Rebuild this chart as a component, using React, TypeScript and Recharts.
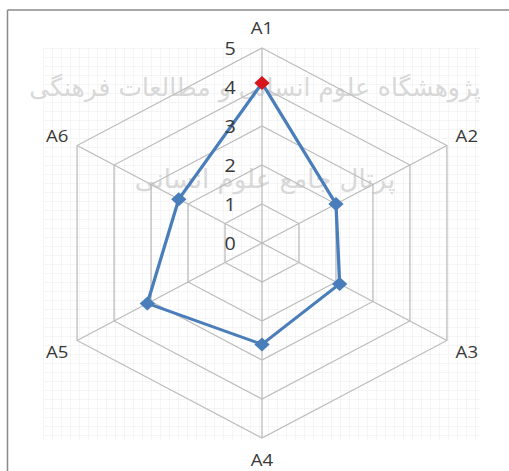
import React from "react";
import { RadarChart, Radar, PolarGrid, PolarAngleAxis, PolarRadiusAxis } from "recharts";

const axes = ["A1", "A2", "A3", "A4", "A5", "A6"];
const scores = [4.1, 2.0, 2.1, 2.6, 3.1, 2.25];
const radiusTicks = [0, 1, 2, 3, 4, 5];

const data = axes.map((name, i) => ({ name, value: scores[i] }));

const CX = 262;
const CY = 243;
const R = 195;
const STRETCH = 1.095;

const AngleTick = (props: any) => {
  const a = (-props.payload.coordinate * Math.PI) / 180;
  const r = R + 21;
  return (
    <text
      x={CX + Math.cos(a) * r}
      y={CY + Math.sin(a) * r}
      textAnchor="middle"
      dominantBaseline="central"
      fontSize={17}
      fill="#383838"
      fontFamily="Open Sans, sans-serif"
    >
      {props.payload.value}
    </text>
  );
};

const RadiusTick = (props: any) => (
  <text
    x={props.x - 29}
    y={props.y}
    textAnchor="middle"
    dominantBaseline="central"
    fontSize={18}
    fill="#383838"
    fontFamily="Open Sans, sans-serif"
  >
    {props.payload.value}
  </text>
);

const Diamond = (props: any) => {
  const { cx, cy, index } = props;
  const s = 7;
  return (
    <polygon
      key={`d-${index}`}
      points={`${cx},${cy - s} ${cx + s},${cy} ${cx},${cy + s} ${cx - s},${cy}`}
      fill={index === 0 ? "#d7161c" : "#4a7ebb"}
    />
  );
};

export default function App() {
  return (
    <div style={{ position: "fixed", left: 0, top: 0, width: 509, height: 471, background: "#fff", overflow: "hidden" }}>
      <svg width={509} height={471} style={{ position: "absolute", left: 0, top: 0 }}>
        <defs>
          <pattern id="paper" width={9} height={9} patternUnits="userSpaceOnUse" x={43} y={48}>
            <path d="M 9 0 L 0 0 0 9" fill="none" stroke="#ececec" strokeWidth={1} />
          </pattern>
        </defs>
        <rect x={43} y={48} width={437} height={392} fill="url(#paper)" />
        <text x={255} y={96} textAnchor="middle" fontSize={25} fill="#d8d8d8" fontFamily="DejaVu Sans, sans-serif" direction="rtl">
          پژوهشگاه علوم انسانی و مطالعات فرهنگی
        </text>
        <text x={265} y={188} textAnchor="middle" fontSize={26} fill="#d8d8d8" fontFamily="DejaVu Sans, sans-serif" direction="rtl">
          پرتال جامع علوم انسانی
        </text>
        <line x1={7.5} y1={10} x2={509} y2={10} stroke="#8a8a8a" strokeWidth={1.5} />
        <line x1={7.5} y1={10} x2={7.5} y2={471} stroke="#8a8a8a" strokeWidth={1.5} />
      </svg>
      <div
        style={{
          position: "absolute",
          left: 0,
          top: 0,
          transform: `scaleX(${STRETCH})`,
          transformOrigin: `${CX}px ${CY}px`,
        }}
      >
        <RadarChart width={509} height={471} data={data} cx={CX} cy={CY} outerRadius={R}>
          <PolarGrid gridType="polygon" stroke="#bdbdbd" strokeWidth={1.2} />
          <PolarAngleAxis dataKey="name" tick={AngleTick} tickLine={false} axisLine={false} />
          <PolarRadiusAxis
            angle={90}
            domain={[0, 5]}
            ticks={radiusTicks as any}
            tickCount={6}
            axisLine={false}
            tickLine={false}
            tick={RadiusTick}
          />
          <Radar
            dataKey="value"
            stroke="#4a7ebb"
            strokeWidth={3}
            fill="none"
            fillOpacity={0}
            dot={Diamond}
            isAnimationActive={false}
          />
        </RadarChart>
      </div>
    </div>
  );
}
